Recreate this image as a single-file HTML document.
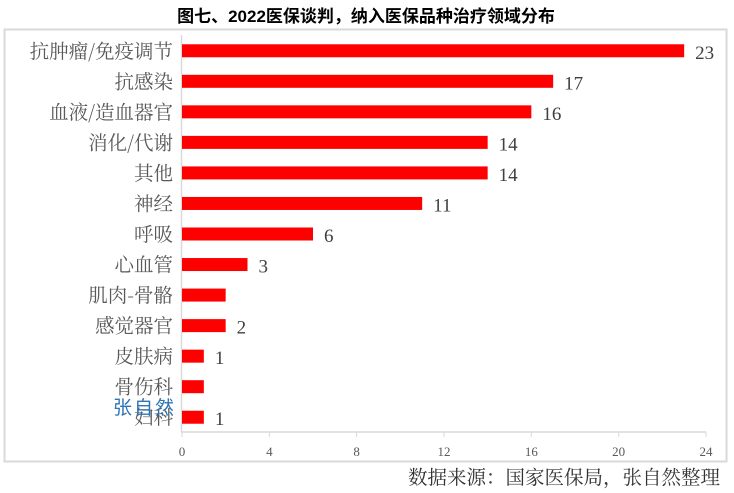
<!DOCTYPE html>
<html><head><meta charset="utf-8"><style>
body{margin:0;background:#fff;width:734px;height:493px;overflow:hidden;position:relative}
svg{position:absolute;left:0;top:0}
</style></head><body>
<svg width="734" height="493">
<text x="366" y="22" text-anchor="middle" font-family="'Liberation Sans','Noto Sans CJK SC',sans-serif" font-weight="bold" font-size="17" fill="#000">图七、2022医保谈判，纳入医保品种治疗领域分布</text>
<rect x="4.5" y="29.5" width="722" height="432" fill="none" stroke="#d9d9d9" stroke-width="2"/>
<g id="plot"></g>
<text x="720" y="484" text-anchor="end" font-family="'Noto Serif CJK SC',serif" font-size="19.5" fill="#333">数据来源：国家医保局，张自然整理</text>
<text x="113" y="414" font-family="'Noto Sans CJK SC',sans-serif" font-size="19" letter-spacing="2" fill="#2e75b6">张自然</text>
</svg>
<script>
const categories=["抗肿瘤/免疫调节","抗感染","血液/造血器官","消化/代谢","其他","神经","呼吸","心血管","肌肉-骨骼","感觉器官","皮肤病","骨伤科","妇科"];
const values=[23,17,16,14,14,11,6,3,2,2,1,1,1];
const showLabel=[true,true,true,true,true,true,true,true,false,true,true,false,true];
const ticks=[0,4,8,12,16,20,24];
const NS="http://www.w3.org/2000/svg";
const g=document.getElementById('plot');
const x0=182,x1=706,y0=35,y1=432;
const xs=v=>x0+v/24*(x1-x0);
const step=(y1-y0)/categories.length;
const yc=i=>y0+step*(i+0.5)+0.5;
function mk(t,a){const e=document.createElementNS(NS,t);for(const k in a)e.setAttribute(k,a[k]);g.appendChild(e);return e;}
let ax=mk('line',{x1:x0-0.5,x2:x0-0.5,y1:y0,y2:y1,stroke:'#d9d9d9','stroke-width':1.5});


let bx=mk('line',{x1:x0-1,x2:x1,y1:y1,y2:y1,stroke:'#d9d9d9','stroke-width':1.5});


ticks.forEach(t=>{
 let tk=mk('line',{x1:xs(t),x2:xs(t),y1:y1,y2:y1+5,stroke:'#d9d9d9'});
 
 
 let tl=mk('text',{x:xs(t),y:456,'text-anchor':'middle','font-family':"'Liberation Serif',serif",'font-size':13,fill:'#595959'});
 tl.textContent=t;
 
 
});
categories.forEach((c,i)=>{
 const y=yc(i);
 let r=mk('rect',{x:x0,y:y-6.5,width:xs(values[i])-x0,height:13,fill:'#ff0000'});
 
 
 let l=mk('text',{x:173,y:y+7,'text-anchor':'end','font-family':"'Noto Serif CJK SC',serif",'font-size':19.5,fill:'#595959'});
 l.textContent=c;
 
 
 if(showLabel[i]){
  let v=mk('text',{x:xs(values[i])+11,y:y+8,'font-family':"'Liberation Serif',serif",'font-size':19,fill:'#404040'});
  v.textContent=values[i];
  
  
 }
});
</script>
</body></html>
